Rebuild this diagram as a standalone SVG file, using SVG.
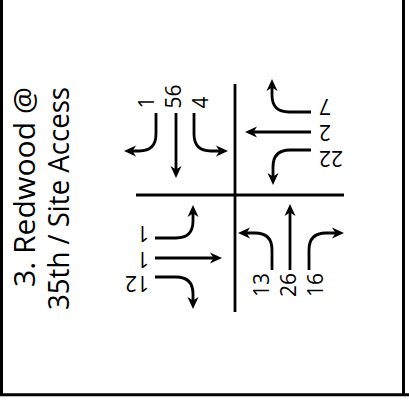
<svg xmlns="http://www.w3.org/2000/svg" width="409" height="402" viewBox="0 0 409 402">
<defs>
<marker id="ah" viewBox="0 0 12 12" markerWidth="12" markerHeight="12" refX="8" refY="6" markerUnits="userSpaceOnUse" orient="auto">
<path d="M0,0.5 L12,6 L0,11.5 L3.5,6 z" fill="#000"/>
</marker>
</defs>
<style>
.frame{stroke:#000;stroke-width:3;fill:none}
.road{stroke:#000;stroke-width:2.8;fill:none}
.mv{stroke:#000;stroke-width:2.8;fill:none;marker-end:url(#ah)}
.lbl{font-family:"Open Sans","Liberation Sans",sans-serif;font-size:21px;fill:#000}
.ttl{font-family:"Open Sans","Liberation Sans",sans-serif;font-size:29px;fill:#000}
</style>
<rect width="409" height="402" fill="#fff"/>
<g id="frame">
<line class="frame" x1="1.5" y1="0" x2="1.5" y2="396"/>
<line class="frame" x1="403.5" y1="0" x2="403.5" y2="396"/>
<line class="frame" x1="0" y1="394.8" x2="409" y2="394.8"/>
</g>
<g id="title">
<text class="ttl" text-anchor="end" transform="translate(35,87) rotate(-90)" textLength="200" lengthAdjust="spacingAndGlyphs">3. Redwood @</text>
<text class="ttl" text-anchor="end" transform="translate(69,87) rotate(-90)" textLength="223" lengthAdjust="spacingAndGlyphs">35th / Site Access</text>
</g>
<g id="roads">
<line class="road" x1="136" y1="195" x2="344" y2="195"/>
<line class="road" x1="235" y1="84" x2="235" y2="312"/>
</g>
<g id="connectors">
<path class="mv" d="M156,113 V134 Q156,151 139,151 H128"/>
<path class="mv" d="M176,113 V174"/>
<path class="mv" d="M194,113 V134 Q194,151 211,151 H224"/>
<path class="mv" d="M311,112 H289 Q272,112 272,95 V83"/>
<path class="mv" d="M311,132 H249"/>
<path class="mv" d="M311,150 H290 Q273,150 273,167 V181"/>
<path class="mv" d="M155,238 H176 Q193,238 193,221 V209"/>
<path class="mv" d="M155,258 H218"/>
<path class="mv" d="M155,277 H176 Q193,277 193,294 V305"/>
<path class="mv" d="M272,270 V250 Q272,233 255,233 H242"/>
<path class="mv" d="M290,270 V208"/>
<path class="mv" d="M309,270 V250 Q309,233 326,233 H340"/>
</g>
<g id="labels-south">
<text class="lbl" transform="translate(154,108.5) rotate(-90)">1</text>
<text class="lbl" transform="translate(181,108.5) rotate(-90)">56</text>
<text class="lbl" transform="translate(207.5,108.5) rotate(-90)">4</text>
</g>
<g id="labels-west">
<text class="lbl" text-anchor="end" transform="translate(319,99) rotate(180)">7</text>
<text class="lbl" text-anchor="end" transform="translate(319,125) rotate(180)">2</text>
<text class="lbl" text-anchor="end" transform="translate(319,151) rotate(180)">22</text>
</g>
<g id="labels-east">
<text class="lbl" transform="translate(149,225.5) rotate(180)">1</text>
<text class="lbl" transform="translate(149,251.5) rotate(180)">1</text>
<text class="lbl" transform="translate(149,275.5) rotate(180)">12</text>
</g>
<g id="labels-north">
<text class="lbl" text-anchor="end" transform="translate(268.5,273) rotate(-90)">13</text>
<text class="lbl" text-anchor="end" transform="translate(295.5,273) rotate(-90)">26</text>
<text class="lbl" text-anchor="end" transform="translate(323,273) rotate(-90)">16</text>
</g>
</svg>
